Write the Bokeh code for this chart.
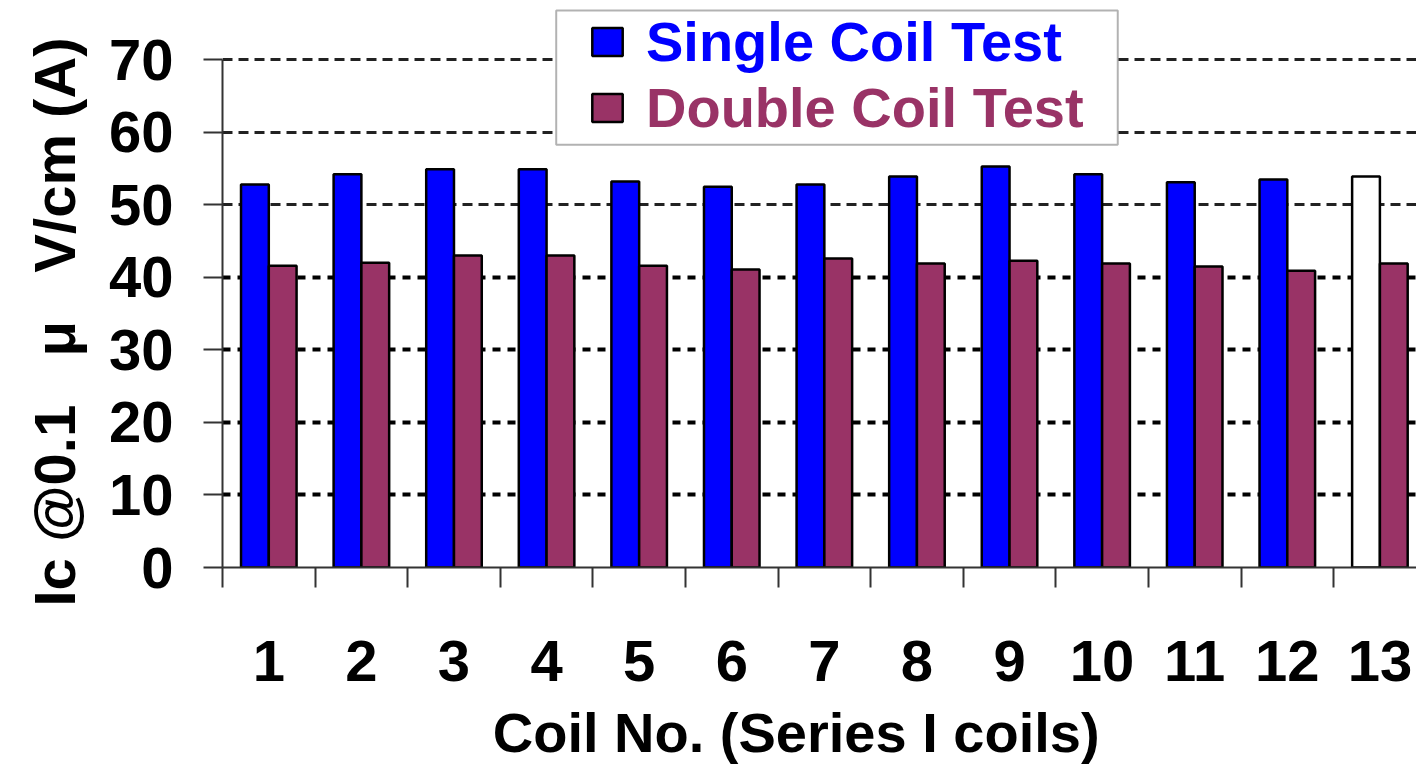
from bokeh.plotting import figure
from bokeh.models import (ColumnDataSource, FixedTicker, Legend, LegendItem, BoxAnnotation,
                          Grid, Title)
from bokeh.transform import dodge
from bokeh.embed import file_html
from bokeh.resources import INLINE

coils = list(range(1, 14))
x_labels = [str(c) for c in coils]
single = [52.8, 54.2, 54.9, 54.9, 53.2, 52.5, 52.8, 53.9, 55.3, 54.2, 53.1, 53.5, 53.9]
double = [41.6, 42.0, 43.0, 43.0, 41.6, 41.1, 42.6, 41.9, 42.3, 41.9, 41.5, 40.9, 41.9]
single_fill = ["#0000FF"] * 12 + ["#FFFFFF"]
y_ticks = [0, 10, 20, 30, 40, 50, 60, 70]

BLUE = "#0000FF"
PLUM = "#993366"
FONT = "Liberation Sans"
NB = "\u00a0"
y_title = "Ic @0.1" + NB * 3 + "μ" + NB * 3 + "V/cm (A)"
x_title = "Coil No. (Series I coils)"

W, H = 1416, 766
FL, FB = 221, 192           # frame left / bottom border
frame_w = W - FL
frame_h = H - FB
cat_px = 92.67
y_px = 7.343
x_end = 0.5 + frame_w / cat_px
y_end = frame_h / y_px

p = figure(width=W, height=H, output_backend="svg", toolbar_location=None,
           x_range=(0.5, x_end), y_range=(0, y_end),
           min_border_left=FL, min_border_bottom=FB, min_border_top=0, min_border_right=0)
p.outline_line_color = None
p.background_fill_color = "white"
p.border_fill_color = "white"

src = ColumnDataSource(dict(x=coils, single=single, double=double, sfill=single_fill))
bw = 0.3
r1 = p.vbar(x=dodge("x", -bw / 2, range=p.x_range), top="single", width=bw, source=src,
            fill_color="sfill", line_color="black", line_width=2.5)
r2 = p.vbar(x=dodge("x", bw / 2, range=p.x_range), top="double", width=bw, source=src,
            fill_color=PLUM, line_color="black", line_width=2.5)

# grids
p.xgrid.visible = False
p.ygrid.visible = False
g_up = Grid(dimension=1, ticker=FixedTicker(ticks=[50, 60, 70]),
            grid_line_color="#222222", grid_line_width=3, grid_line_dash="10 6")
g_lo = Grid(dimension=1, ticker=FixedTicker(ticks=[10, 20, 30, 40]),
            grid_line_color="black", grid_line_width=4, grid_line_dash="8 7")
p.add_layout(g_up)
p.add_layout(g_lo)

# y axis
ya = p.yaxis[0]
ya.ticker = FixedTicker(ticks=y_ticks)
ya.bounds = (0, 70)
ya.axis_line_color = "#333333"
ya.axis_line_width = 2
ya.major_tick_in = 0
ya.major_tick_out = 19
ya.major_tick_line_color = "#333333"
ya.major_tick_line_width = 2
ya.minor_tick_line_color = None
ya.major_label_text_font = FONT
ya.major_label_text_font_style = "bold"
ya.major_label_text_font_size = "58px"
ya.major_label_text_color = "black"
ya.major_label_standoff = 30

# y axis title as a side title, starting near the bottom like the reference
yt = Title(text=y_title, align="left", offset=-39, standoff=38,
           text_font=FONT, text_font_style="bold", text_font_size="58px",
           text_color="black")
p.add_layout(yt, "left")

# x axis
xa = p.xaxis[0]
xa.ticker = FixedTicker(ticks=coils, minor_ticks=[c - 0.5 for c in coils] + [13.5])
xa.major_label_overrides = {c: l for c, l in zip(coils, x_labels)}
xa.axis_line_color = "#333333"
xa.axis_line_width = 2
xa.major_tick_line_color = None
xa.major_tick_in = 0
xa.major_tick_out = 20
xa.minor_tick_in = 0
xa.minor_tick_out = 20
xa.minor_tick_line_color = "#333333"
xa.minor_tick_line_width = 2
xa.major_label_text_font = FONT
xa.major_label_text_font_style = "bold"
xa.major_label_text_font_size = "58px"
xa.major_label_text_color = "black"
xa.major_label_standoff = 53
xa.axis_label = x_title + NB * 3
xa.axis_label_text_font = FONT
xa.axis_label_text_font_style = "bold"
xa.axis_label_text_font_size = "56px"
xa.axis_label_text_color = "black"
xa.axis_label_standoff = 17

# page px -> data helpers (for the legend frame)
def px2x(px):
    return 0.5 + (px - FL) / cat_px

def py2y(py):
    return (frame_h - py) / y_px

box = BoxAnnotation(left=px2x(555), right=px2x(1117), top=py2y(10), bottom=py2y(146),
                    fill_color="white", fill_alpha=1.0, line_color="black", line_width=2,
                    level="annotation")
p.add_layout(box)

leg_common = dict(border_line_color=None, background_fill_alpha=0, padding=0, margin=0,
                  glyph_width=38, glyph_height=35, label_standoff=20,
                  label_text_font=FONT, label_text_font_style="bold",
                  label_text_font_size="56px")
l1 = Legend(items=[LegendItem(label="Single Coil Test", renderers=[r1], index=0)],
            location=(366, 493), label_text_color=BLUE, **leg_common)
l2 = Legend(items=[LegendItem(label="Double Coil Test", renderers=[r2])],
            location=(366, 427), label_text_color=PLUM, **leg_common)
p.add_layout(l1)
p.add_layout(l2)

open("out.html", "w").write(file_html(p, INLINE))
